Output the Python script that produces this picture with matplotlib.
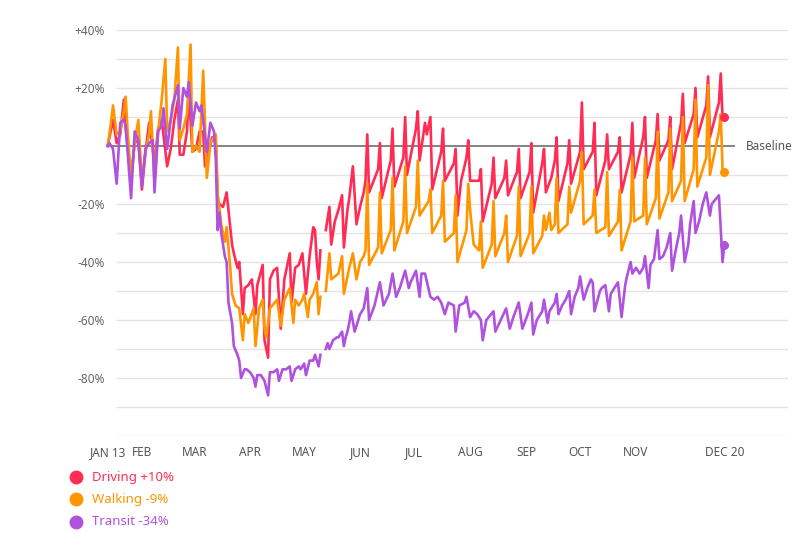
import numpy as np
import matplotlib.pyplot as plt
from matplotlib.lines import Line2D

nan = float("nan")

# (day since Jan 13 2020, % change vs baseline); Apple data is missing on May 11-12
driving = [
    (0, 0), (1, 3), (3, 9), (5, 1), (7, 4), (9, 16), (10, 6), (13, -11), (15, 1), (17, 2),
    (19, -15), (21, -2), (23, 8), (24, 4), (26, -6), (28, 6), (30, 9), (33, -7), (35, -1),
    (37, 9), (39, 16), (40, -3), (42, -3), (44, 5), (45, 19), (47, -2), (49, -1), (51, 5),
    (53, 5), (54, -7), (56, -2), (58, 3), (60, 1), (61, -18), (62, -20), (64, -21), (66, -16),
    (67, -22), (69, -34), (70, -37), (72, -42), (73, -40), (75, -58), (76, -49), (78, -48),
    (80, -46), (82, -58), (83, -48), (86, -41), (87, -67), (89, -73), (90, -46), (92, -43),
    (94, -42), (96, -63), (98, -46), (101, -37), (102, -54), (104, -42), (106, -41), (108, -37),
    (110, -51), (112, -38), (114, -28), (115, -29), (116, -40), (117, -46), (118, -36),
    (119, nan),
    (121, -29), (123, -21), (124, -34), (126, -26), (128, -22), (130, -17), (131, -35),
    (133, -22), (134, -18), (136, -7), (138, -27), (140, -21), (142, -16),
    (143, -12), (144, 4), (145, -16), (150, -8), (151, 1), (152, -18), (157, -5), (158, 6),
    (159, -14), (164, -4), (165, 10), (166, -10), (171, 6), (172, 12), (173, -5), (176, 8),
    (177, 4), (179, 10), (180, -15), (185, -2), (186, 6), (187, -12), (192, -6), (193, -1),
    (194, -24), (196, -12), (199, -4), (200, 2), (201, -12), (206, -12), (207, -8), (208, -26),
    (213, -13), (214, -4), (215, -18), (220, -11), (221, -5), (222, -17), (227, -9), (228, -1),
    (229, -18), (234, -9), (235, 1), (236, -23), (241, -6), (242, -1), (243, -16), (246, -11),
    (248, -5), (249, 3), (250, -19), (255, -6), (256, 2), (257, -13), (262, -2), (263, 15),
    (264, -8), (269, -2), (270, 8), (271, -17), (276, -5), (277, 4), (278, -8), (283, -2),
    (284, 3), (285, -16), (290, -3), (291, 8), (292, -11), (297, 3), (298, 10), (299, -11),
    (304, 2), (305, 11), (306, -5), (311, 2), (312, 10), (313, -8), (318, 8), (319, 18),
    (320, 1), (325, 11), (326, 20), (327, 3), (332, 14), (333, 24), (334, 3), (339, 15),
    (340, 25), (341, 10), (342, 10),
]

walking = [
    (0, 0), (1, 4), (3, 14), (5, 4), (7, 5), (9, 12), (10, 17), (11, 6), (13, -11), (15, 1),
    (17, 9), (19, -12), (21, -2), (23, 4), (24, 12), (26, -12), (28, 5), (30, 16), (32, 30),
    (33, 5), (35, 9), (37, 16), (39, 34), (40, 2), (42, 6), (44, 11), (46, 35), (47, -2),
    (49, 0), (51, -2), (53, 26), (55, -11), (57, 1), (60, 4), (61, -16), (63, -27), (65, -33),
    (66, -28), (68, -42), (69, -51), (71, -55), (73, -56), (75, -67), (76, -58), (78, -61),
    (81, -56), (82, -69), (84, -56), (86, -53), (87, -63), (88, -66), (90, -56), (94, -53),
    (96, -62), (98, -53), (101, -49), (103, -61), (104, -53), (106, -55), (108, -53),
    (109, -51), (111, -59), (112, -53), (114, -51), (116, -47), (117, -58), (118, -52),
    (119, nan),
    (121, -50), (123, -37), (124, -46), (126, -45), (128, -44), (130, -38), (131, -51),
    (133, -45), (134, -42), (136, -37), (138, -46), (140, -40), (142, -38),
    (143, -36), (144, -13), (145, -41), (150, -35), (151, -16), (152, -37), (157, -29),
    (158, -11), (159, -36), (164, -26), (165, -7), (166, -30), (171, -21), (172, -5),
    (173, -24), (178, -19), (179, -15), (180, -30), (185, -24), (186, -12), (187, -33),
    (192, -30), (193, -17), (194, -40), (199, -29), (200, -13), (201, -22), (203, -34),
    (206, -36), (207, -26), (208, -42), (213, -34), (214, -19), (215, -38), (220, -30),
    (221, -24), (222, -40), (227, -31), (228, -14), (229, -38), (234, -30), (235, -14),
    (236, -37), (241, -31), (242, -24), (243, -29), (245, -23), (246, -29), (248, -27),
    (249, -11), (250, -30), (255, -27), (256, -14), (257, -23), (262, -12), (263, -2),
    (264, -27), (269, -24), (270, -15), (271, -30), (276, -28), (277, -9), (278, -31),
    (283, -26), (284, -15), (285, -36), (290, -26), (291, -4), (292, -26), (297, -24),
    (298, -4), (299, -27), (304, -18), (305, 5), (306, -25), (311, -16), (312, 6), (313, -19),
    (318, -12), (319, 10), (320, -19), (325, -8), (326, 16), (327, -14), (332, -4), (333, 21),
    (334, -10), (339, 5), (340, 11), (341, -8), (342, -9),
]

transit = [
    (0, 0), (1, 1), (3, -1), (5, -13), (7, 8), (9, 9), (10, 7), (13, -18), (15, 5), (17, 2),
    (19, -14), (21, -1), (23, 1), (25, 2), (26, -16), (28, 5), (30, 7), (31, 13), (33, -1),
    (35, 9), (36, 14), (39, 21), (40, 6), (42, 20), (44, 17), (45, 22), (47, 7), (49, 15),
    (51, 12), (52, 14), (55, -2), (57, 8), (59, 5), (60, -5), (61, -29), (62, -23), (63, -30),
    (64, -34), (65, -38), (66, -40), (67, -54), (69, -61), (70, -69), (72, -72), (73, -74),
    (74, -80), (76, -77), (77, -77), (79, -78), (81, -80), (82, -83), (83, -79), (85, -79),
    (87, -81), (89, -86), (90, -78), (92, -78), (94, -77), (95, -81), (97, -77), (99, -77),
    (101, -76), (102, -81), (104, -77), (106, -76), (107, -77), (109, -75), (110, -79),
    (112, -74), (114, -74), (115, -72), (117, -76), (118, -72),
    (119, nan),
    (121, -70), (122, -68), (123, -70), (125, -67), (127, -66), (128, -66), (130, -64),
    (131, -69), (132, -66), (133, -64), (134, -61), (135, -57), (137, -64), (140, -58),
    (142, -56), (144, -49), (145, -60), (148, -55), (151, -47), (153, -55), (156, -51),
    (158, -44), (160, -52), (162, -49), (165, -43), (167, -49), (168, -47), (171, -43),
    (173, -52), (174, -44), (176, -44), (179, -52), (181, -53), (183, -52), (185, -54),
    (187, -58), (189, -54), (192, -55), (193, -64), (195, -55), (198, -54), (199, -52),
    (201, -59), (203, -57), (205, -58), (207, -60), (208, -67), (210, -60), (214, -57),
    (215, -64), (218, -60), (221, -56), (223, -63), (225, -59), (228, -54), (230, -63),
    (233, -58), (235, -54), (236, -65), (238, -60), (241, -57), (242, -53), (244, -61),
    (245, -57), (248, -54), (249, -51), (250, -58), (252, -55), (254, -53), (256, -50),
    (257, -58), (259, -52), (261, -49), (262, -45), (264, -53), (266, -49), (268, -46),
    (269, -47), (270, -57), (273, -50), (274, -49), (276, -48), (278, -57), (279, -51),
    (281, -49), (283, -47), (285, -59), (287, -48), (288, -45), (290, -40), (291, -44),
    (293, -42), (295, -44), (297, -42), (298, -38), (300, -49), (301, -41), (303, -39),
    (305, -29), (306, -39), (308, -38), (310, -35), (312, -30), (313, -43), (315, -36),
    (317, -30), (318, -24), (320, -40), (322, -34), (323, -27), (325, -19), (326, -30),
    (328, -26), (330, -20), (332, -16), (334, -24), (335, -20), (339, -17), (341, -40),
    (342, -34),
]

month_days = [0, 19, 48, 79, 109, 140, 170, 201, 232, 262, 293, 342]
month_labels = ["JAN 13", "FEB", "MAR", "APR", "MAY", "JUN", "JUL", "AUG", "SEP", "OCT", "NOV", "DEC 20"]
y_labels = [40, 20, -20, -40, -60, -80]

series = [
    ("Driving", driving, "#FF2D55"),
    ("Walking", walking, "#FF9500"),
    ("Transit", transit, "#AF52DE"),
]

plt.rcParams["font.family"] = ["Noto Sans", "DejaVu Sans"]

fig = plt.figure(figsize=(8, 5.47), dpi=100)
W, H = 800, 547
ax = fig.add_axes([106 / W, 1 - 436 / H, 682 / W, 406 / H])

x_min, x_max = -0.9, 377.3

# light grid every 10 %, darker baseline at 0
for v in range(-100, 50, 10):
    if v != 0:
        ax.hlines(v, 4.6, x_max, color="#e4e4e4", lw=1, zorder=0)
ax.hlines(0, 0, 348, color="#7a7a7a", lw=1.3, zorder=1)
ax.text(354, 0, "Baseline", color="#555555", fontsize=8.5, va="center", ha="left")

for name, data, color in series:
    days = np.array([d for d, v in data], dtype=float)
    vals = np.array([v for d, v in data], dtype=float)
    ax.plot(days, vals, color=color, lw=1.9, solid_joinstyle="round", zorder=3)
    ax.plot(days[-1], vals[-1], "o", color=color, markersize=5.5, zorder=4)

ax.set_yticks(y_labels, [f"{v:+d}%" for v in y_labels])
ax.set_xticks(month_days, month_labels)
ax.set_xlim(x_min, x_max)
ax.set_ylim(-100, 40)
ax.tick_params(axis="y", length=0, pad=1, labelsize=8.5, labelcolor="#666666")
ax.tick_params(axis="x", length=0, pad=7, labelsize=8.5, labelcolor="#555555")
for s in ax.spines.values():
    s.set_visible(False)

# legend: coloured dot + coloured label with the latest value
for i, (name, data, color) in enumerate(series):
    y = 1 - (477 + 22.3 * i) / H
    fig.add_artist(Line2D([76 / W], [y], marker="o", markersize=9, color=color,
                          transform=fig.transFigure))
    fig.text(92 / W, y, f"{name} {data[-1][1]:+d}%", color=color, fontsize=9.5, va="center")

plt.savefig("out.png", dpi=100)
